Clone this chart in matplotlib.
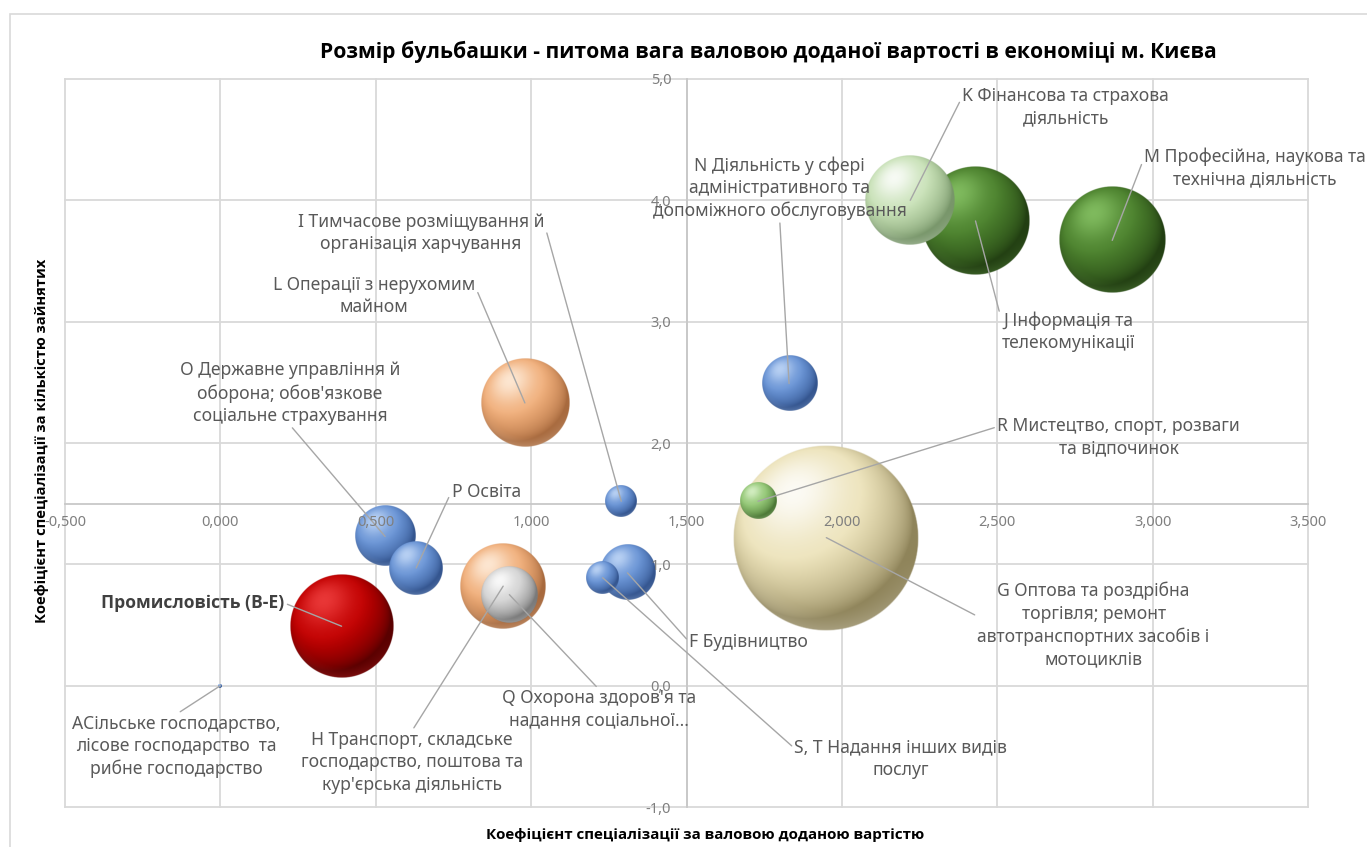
import matplotlib
matplotlib.use("Agg")
import matplotlib.pyplot as plt
import numpy as np
from matplotlib import font_manager
from matplotlib.colors import to_rgb
from matplotlib.patches import Rectangle
from matplotlib.ticker import FuncFormatter, MultipleLocator

plt.rcParams["font.family"] = ["Noto Sans", "DejaVu Sans"]


def bold_family():
    # pick the first family that really has a bold face installed
    for fam in ["Noto Sans", "Open Sans", "Roboto", "Lato", "Liberation Sans", "DejaVu Sans"]:
        for f in font_manager.fontManager.ttflist:
            if f.name == fam and f.style == "normal" and f.weight in (700, "bold"):
                return fam
    return "DejaVu Sans"


BOLD = [bold_family(), "DejaVu Sans"]

# sectors of Kyiv economy (NACE sections)
sectors = [
    "АСільське господарство,\nлісове господарство  та\nрибне господарство",
    "Промисловість (B-E)",
    "F Будівництво",
    "G Оптова та роздрібна\nторгівля; ремонт\nавтотранспортних засобів і\nмотоциклів",
    "H Транспорт, складське\nгосподарство, поштова та\nкур'єрська діяльність",
    "I Тимчасове розміщування й\nорганізація харчування",
    "J Інформація та\nтелекомунікації",
    "K Фінансова та страхова\nдіяльність",
    "L Операції з нерухомим\nмайном",
    "M Професійна, наукова та\nтехнічна діяльність",
    "N Діяльність у сфері\nадміністративного та\nдопоміжного обслуговування",
    "O Державне управління й\nоборона; обов'язкове\nсоціальне страхування",
    "P Освіта",
    "Q Охорона здоров'я та\nнадання соціальної...",
    "R Мистецтво, спорт, розваги\nта відпочинок",
    "S, T Надання інших видів\nпослуг",
]
gva_coef = [0.00, 0.39, 1.31, 1.95, 0.91, 1.29, 2.43, 2.22, 0.98, 2.87, 1.83, 0.53, 0.63, 0.93, 1.73, 1.23]
emp_coef = [0.00, 0.49, 0.93, 1.22, 0.82, 1.52, 3.83, 4.00, 2.33, 3.67, 2.49, 1.23, 0.97, 0.75, 1.52, 0.89]
gva_share = [0.01, 7.5, 2.1, 24.0, 5.1, 0.7, 8.1, 5.6, 5.4, 7.8, 2.1, 2.5, 2.0, 2.2, 0.9, 0.75]

TITLE = "Розмір бульбашки - питома вага валовою доданої вартості в економіці м. Києва"
XLABEL = "Коефіцієнт спеціалізації за валовою доданою вартістю"
YLABEL = "Коефіцієнт спеціалізації за кількістю зайнятих"

# base, highlight, rim
BLUE = ("#6792d4", "#c4daf8", "#34558f")
RED = ("#c00000", "#f04040", "#5a0000")
ORANGE = ("#f0ad78", "#fff0e0", "#a86a3e")
WHITE = ("#d2d2d2", "#ffffff", "#7a7a7a")
CREAM = ("#ece2b8", "#ffffff", "#8f845a")
LGREEN = ("#c6e0b4", "#ffffff", "#78966a")
GREEN = ("#4a7f2c", "#88c466", "#223f12")
SGREEN = ("#92c674", "#dcf3cc", "#4c7836")
bubble_colors = [BLUE, RED, BLUE, CREAM, ORANGE, BLUE, GREEN, LGREEN, ORANGE, GREEN,
                 BLUE, BLUE, BLUE, WHITE, SGREEN, BLUE]

# label placement: (x, y, relpos of leader line on the text box)
label_pos = [
    (-0.143, -0.50, (0.5, 1.0)),
    (-0.088, 0.68, (1.0, 0.5)),
    (1.70, 0.36, (0.0, 0.5)),
    (2.81, 0.50, (0.0, 0.6)),
    (0.617, -0.63, (0.5, 1.0)),
    (0.645, 3.73, (1.0, 0.75)),
    (2.73, 2.915, (0.0, 0.75)),
    (2.72, 4.77, (0.0, 0.75)),
    (0.494, 3.21, (1.0, 0.75)),
    (3.33, 4.27, (0.0, 0.75)),
    (1.80, 4.10, (0.5, 0.0)),
    (0.224, 2.41, (0.5, 0.0)),
    (0.855, 1.60, (0.0, 0.5)),
    (1.218, -0.196, (0.5, 1.0)),
    (2.89, 2.05, (0.0, 0.75)),
    (2.19, -0.60, (0.0, 0.75)),
]

W, H, DPI = 1367, 847, 100
fig = plt.figure(figsize=(W / DPI, H / DPI), dpi=DPI)
ax = fig.add_axes([65 / W, 1 - 807 / H, (1308 - 65) / W, (807 - 79) / H])
XLIM, YLIM = (-0.5, 3.5), (-1.0, 5.0)
ax.set_xlim(*XLIM)
ax.set_ylim(*YLIM)


def sphere(cols, n=300):
    base, hi, rim = (np.array(to_rgb(c)) for c in cols)
    u = np.linspace(-1, 1, n)
    X, Y = np.meshgrid(u, u[::-1])
    r = np.sqrt(X ** 2 + Y ** 2)
    Z = np.sqrt(np.clip(1 - r ** 2, 0, 1))
    L = np.array([-0.35, 0.5, 0.8])
    L = L / np.linalg.norm(L)
    diff = np.clip(X * L[0] + Y * L[1] + Z * L[2], 0, 1)
    k = np.clip(diff * 1.35, 0, 1) ** 0.8
    rgb = rim + (base - rim) * k[..., None]
    spec = diff ** 7
    rgb = rgb + (hi - rgb) * (0.85 * spec)[..., None]
    # faint reflected light along the lower rim
    refl = np.clip((r - 0.78) / 0.2, 0, 1) * np.clip(-Y - 0.2, 0, 1) * (r <= 1)
    rgb = rgb + (hi - rgb) * (0.25 * refl)[..., None]
    alpha = np.clip((1 - r) * n / 3.0, 0, 1)
    return np.dstack([np.clip(rgb, 0, 1), alpha])


# Excel scales bubble area to share, largest bubble ~186 px wide
max_d = 186.0
p0 = ax.transData.transform((0, 0))
p1 = ax.transData.transform((1, 1))
ppx, ppy = p1[0] - p0[0], p1[1] - p0[1]
order = np.argsort(gva_share)[::-1]
for k, i in enumerate(order):
    d = max_d * np.sqrt(gva_share[i] / max(gva_share))
    rx, ry = d / 2 / ppx, d / 2 / ppy
    x, y = gva_coef[i], emp_coef[i]
    ax.imshow(sphere(bubble_colors[i]), extent=(x - rx, x + rx, y - ry, y + ry),
              aspect="auto", interpolation="antialiased", zorder=3 + k * 0.01)
ax.set_xlim(*XLIM)
ax.set_ylim(*YLIM)

for i, name in enumerate(sectors):
    lx, ly, rp = label_pos[i]
    bold = name.startswith("Промисловість")
    ax.annotate(name, xy=(gva_coef[i], emp_coef[i]), xytext=(lx, ly),
                ha="center", va="center", ma="center", fontsize=12.6,
                linespacing=1.32, color="#404040" if bold else "#595959",
                family=BOLD if bold else None,
                fontweight="bold" if bold else "normal", zorder=6,
                annotation_clip=False,
                arrowprops=dict(arrowstyle="-", color="#a6a6a6", lw=1.0,
                                shrinkA=0, shrinkB=0, relpos=rp))

# axes cross at 1.5 / 1.5 like in the Excel original
ax.spines["left"].set_position(("data", 1.5))
ax.spines["bottom"].set_position(("data", 1.5))
for s in ("top", "right"):
    ax.spines[s].set_visible(False)
for s in ("left", "bottom"):
    ax.spines[s].set_color("#c8c8c8")
    ax.spines[s].set_linewidth(1.3)
    ax.spines[s].set_zorder(2)

ax.xaxis.set_major_locator(MultipleLocator(0.5))
ax.yaxis.set_major_locator(MultipleLocator(1.0))
ax.xaxis.set_major_formatter(FuncFormatter(lambda v, p: f"{v:.3f}".replace(".", ",")))
ax.yaxis.set_major_formatter(FuncFormatter(lambda v, p: f"{v:.1f}".replace(".", ",")))
ax.tick_params(axis="x", length=0, pad=8, labelsize=10.5, labelcolor="#7f7f7f")
ax.tick_params(axis="y", length=0, pad=11, labelsize=10.5, labelcolor="#7f7f7f")
# tick labels sit on top of the bubbles, grid stays behind
ax.xaxis.set_zorder(7)
ax.yaxis.set_zorder(7)
for v in np.arange(XLIM[0], XLIM[1] + 0.01, 0.5):
    ax.axvline(v, color="#d9d9d9", lw=1.3, zorder=1, clip_on=False)
for v in np.arange(YLIM[0], YLIM[1] + 0.01, 1.0):
    ax.axhline(v, color="#d9d9d9", lw=1.3, zorder=1, clip_on=False)

fig.text(768 / W, 1 - 52 / H, TITLE, ha="center", va="center", fontsize=15.2,
         family=BOLD, fontweight="bold", color="black")
fig.text(705 / W, 1 - 835 / H, XLABEL, ha="center", va="center", fontsize=10.9,
         family=BOLD, fontweight="bold", color="black")
fig.text(42 / W, 1 - 441 / H, YLABEL, ha="center", va="center", rotation=90,
         fontsize=10.6, family=BOLD, fontweight="bold", color="black")

fig.add_artist(Rectangle((10 / W, -0.05), 1.2, 1.05 - 14 / H, transform=fig.transFigure,
                         fill=False, edgecolor="#d9d9d9", lw=1.2))

fig.savefig("out.png", dpi=DPI)
